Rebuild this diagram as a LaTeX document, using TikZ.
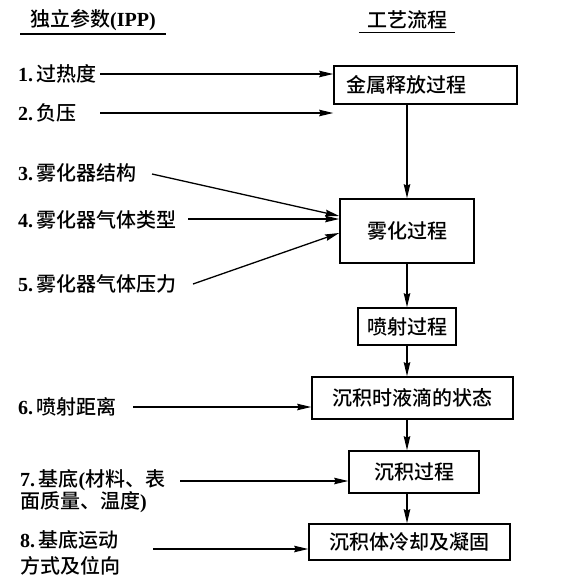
\documentclass[tikz,border=0pt]{standalone}
\usepackage{fontspec}
\setmainfont{Liberation Serif}
\newfontfamily\cjk{Noto Sans CJK SC Medium}
\newcommand{\zh}[1]{{\cjk\mdseries #1}}
\usetikzlibrary{arrows.meta, positioning, calc}

\begin{document}
\begin{tikzpicture}[
        x=1pt, y=-1pt,
        font=\fontsize{20pt}{24pt}\selectfont\bfseries,
        header/.style={inner ysep=3pt},
        stage/.style={draw, line width=1.6pt, inner sep=0pt, align=center},
        param/.style={anchor=west, inner sep=0pt, align=left},
        flow/.style={line width=1.3pt, -{Stealth[length=14pt, width=6.5pt, inset=1.5pt]}}
    ]
    \useasboundingbox (0,0) rectangle (561,579);

    % Headers
    \node[header, inner xsep=10pt] (hparam) at (93,20) {\zh{独立参数}(IPP)};
    \node[header, inner xsep=8pt] (hproc) at (407,20) {\zh{工艺流程}};
    \draw[line width=1.5pt] (hparam.south west) -- (hparam.south east);
    \draw[line width=1.5pt] (hproc.south west) -- (hproc.south east);

    % Process stages
    \node[stage, align=left, text width=159pt, inner xsep=12pt, minimum height=38pt] (s1) at (425.5,85) {\zh{金属释放过程}};
    \node[stage, minimum width=134pt, minimum height=64pt] (s2) at (407,231) {\zh{雾化过程}};
    \node[stage, minimum width=98pt, minimum height=37pt] (s3) at (407,326.5) {\zh{喷射过程}};
    \node[stage, minimum width=201pt, minimum height=42pt] (s4) at (412.5,398) {\zh{沉积时液滴的状态}};
    \node[stage, minimum width=130pt, minimum height=42pt] (s5) at (414,472) {\zh{沉积过程}};
    \node[stage, minimum width=201pt, minimum height=36pt] (s6) at (409.5,542) {\zh{沉积体冷却及凝固}};

    % Independent parameters
    \node[param] (p1) at (18,74) {1.\,\zh{过热度}};
    \node[param] (p2) at (18,113) {2.\,\zh{负压}};
    \node[param] (p3) at (18,173) {3.\,\zh{雾化器结构}};
    \node[param] (p4) at (18,220) {4.\,\zh{雾化器气体类型}};
    \node[param] (p5) at (18,284) {5.\,\zh{雾化器气体压力}};
    \node[param] (p6) at (18,407) {6.\,\zh{喷射距离}};
    \node[param, font=\fontsize{20pt}{22pt}\selectfont\bfseries] (p7) at (20,491) {7.\,\zh{基底}(\zh{材料、表}\\\zh{面质量、温度})};
    \node[param, font=\fontsize{20pt}{26pt}\selectfont\bfseries] (p8) at (20,553) {8.\,\zh{基底运动}\\\zh{方式及位向}};

    % Arrow tails
    \coordinate (a1) at (100,74);
    \coordinate (a2) at (100,113);
    \coordinate (a3) at (152,174);
    \coordinate (a4) at (188,219);
    \coordinate (a5) at (193,284);
    \coordinate (a6) at (133,407);
    \coordinate (a7) at (180,481);
    \coordinate (a8) at (153,549);
    \coordinate (spine) at (407,0);

    % Main flow
    \foreach \a/\b in {s1/s2, s2/s3, s3/s4, s4/s5, s5/s6}
        \draw[flow] (\a.south -| spine) -- (\b.north -| spine);

    % Parameter inputs
    \foreach \i/\s in {1/s1, 2/s1, 4/s2, 6/s4, 7/s5, 8/s6}
        \draw[flow] (a\i) -- (a\i -| \s.west);
    \draw[flow] (a3) -- ([yshift=15pt]s2.west);
    \draw[flow] (a5) -- ([yshift=-2pt]s2.west);

\end{tikzpicture}
\end{document}
